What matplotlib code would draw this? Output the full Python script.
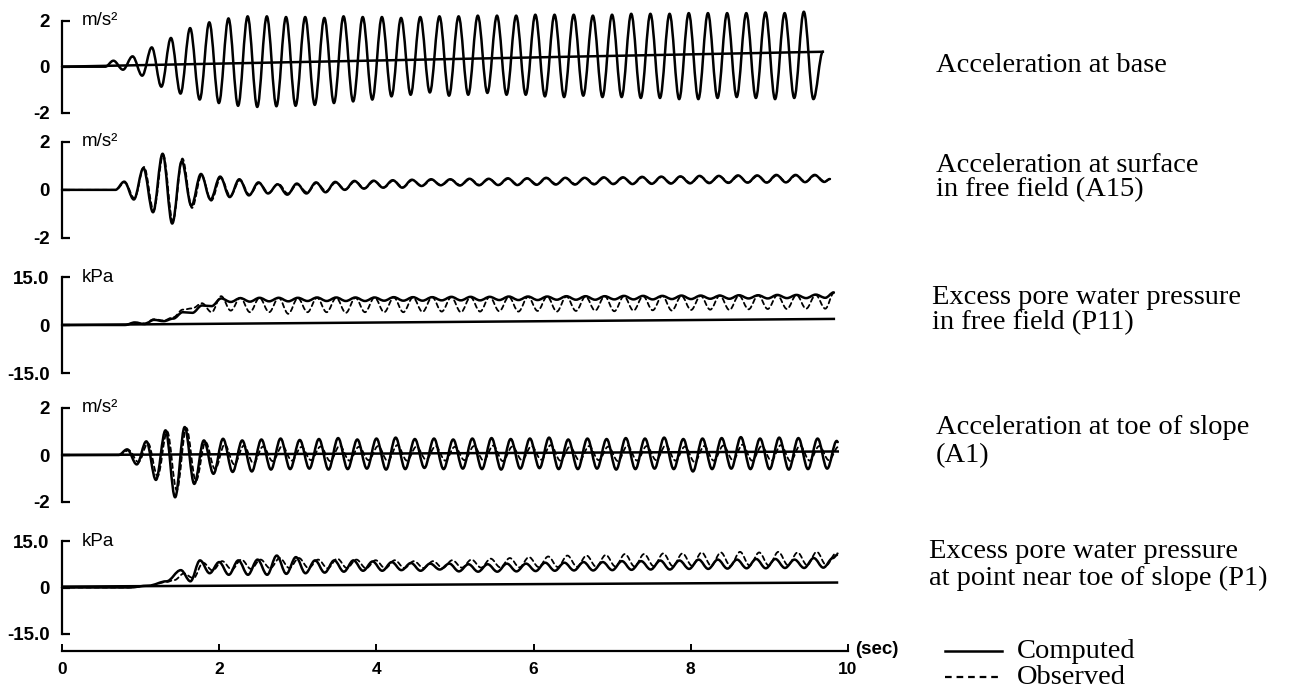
import numpy as np
import matplotlib
matplotlib.use("Agg")
import matplotlib.pyplot as plt
from matplotlib.lines import Line2D
from matplotlib.path import Path
from matplotlib.patches import PathPatch

# ---------------- data ----------------
HALF_PERIOD = 0.122  # s, spacing of successive extrema (4 Hz shaking)

x_ticks = [0, 2, 4, 6, 8, 10]
x_tick_labels = ["0", "2", "4", "6", "8", "10"]
acc_ticks = [-2, 0, 2]
acc_tick_labels = ["-2", "0", "2"]
pwp_ticks = [-15, 0, 15]
pwp_tick_labels = ["-15.0", "0", "15.0"]

# Panel 1 : acceleration at base (computed), extrema pairs (peak, trough)
base_onset_t = [0.0, 0.55]
base_onset_v = [0.0, 0.0]
base_t0 = 0.654
base_comp = [0.26, -0.13, 0.45, -0.39, 0.84, -0.87, 1.25, -1.17, 1.68, -1.43,
             1.93, -1.58, 2.10, -1.70, 2.19, -1.75, 2.19, -1.72, 2.16, -1.70,
             2.16, -1.66, 2.12, -1.58, 2.19, -1.51, 2.16, -1.43, 2.16, -1.29,
             2.12, -1.22, 2.16, -1.12, 2.19, -1.26, 2.19, -1.22, 2.22, -1.14,
             2.22, -1.22, 2.22, -1.22, 2.26, -1.29, 2.26, -1.32, 2.26, -1.26,
             2.22, -1.32, 2.26, -1.32, 2.30, -1.36, 2.30, -1.36, 2.30, -1.41,
             2.33, -1.41, 2.33, -1.36, 2.33, -1.32, 2.33, -1.36, 2.36, -1.41,
             2.33, -1.36, 2.39, -1.41]
base_end = (9.68, 0.65)
base_line_t = [0.0, 9.68]
base_line_v = [0.0, 0.65]

# Panel 2 : acceleration at surface in free field (A15)
a15_onset_t = [0.0, 0.68]
a15_onset_v = [0.0, 0.0]
a15_t0_comp = 0.792
a15_comp = [0.34, -0.40, 0.90, -0.93, 1.50, -1.40, 1.19, -0.66, 0.66, -0.40,
            0.55, -0.30, 0.44, -0.23, 0.31, -0.15, 0.23, -0.20, 0.26, -0.15,
            0.31, -0.10, 0.33, 0.00, 0.37, 0.05, 0.38, 0.09, 0.40, 0.09,
            0.42, 0.16, 0.44, 0.19, 0.44, 0.18, 0.46, 0.19, 0.46, 0.20,
            0.48, 0.20, 0.48, 0.21, 0.50, 0.22, 0.50, 0.22, 0.50, 0.23,
            0.52, 0.24, 0.52, 0.24, 0.54, 0.25, 0.55, 0.26, 0.56, 0.27,
            0.58, 0.28, 0.58, 0.29, 0.60, 0.30, 0.60, 0.30, 0.62, 0.31,
            0.62, 0.32, 0.62, 0.33]
a15_t0_obs = 0.80
a15_obs = [0.30, -0.35, 0.95, -0.85, 1.45, -1.30, 1.30, -0.75, 0.60, -0.45,
           0.50, -0.25, 0.40, -0.20, 0.28, -0.12, 0.25, -0.15, 0.22, -0.10,
           0.28, -0.05, 0.30, 0.02, 0.35, 0.07, 0.36, 0.10, 0.38, 0.12,
           0.40, 0.17, 0.42, 0.20, 0.42, 0.20, 0.44, 0.21, 0.45, 0.21,
           0.46, 0.22, 0.47, 0.23, 0.48, 0.24, 0.48, 0.24, 0.49, 0.25,
           0.50, 0.26, 0.50, 0.26, 0.52, 0.27, 0.53, 0.28, 0.54, 0.29,
           0.55, 0.30, 0.56, 0.31, 0.57, 0.31, 0.58, 0.32, 0.60, 0.33,
           0.60, 0.34, 0.60, 0.35]
a15_end = (9.77, 0.45)

# Panel 3 : excess pore water pressure in free field (P11), pairs (low, high)
p11_onset_t = [0.0, 0.80]
p11_onset_v = [0.0, 0.0]
p11_t0 = 0.927
p11_comp = [0.8, 0.3, 1.6, 1.2, 2.0, 4.0, 3.8, 6.1, 5.9, 8.3, 7.2, 8.4,
            7.3, 8.5, 7.4, 8.5, 7.4, 8.5, 7.5, 8.6, 7.5, 8.6, 7.5, 8.6,
            7.5, 8.6, 7.6, 8.7, 7.6, 8.7, 7.6, 8.7, 7.7, 8.8, 7.7, 8.8,
            7.7, 8.8, 7.8, 8.9, 7.8, 8.9, 7.8, 8.9, 7.9, 9.0, 7.9, 9.0,
            7.9, 9.0, 8.0, 9.1, 8.0, 9.1, 8.0, 9.1, 8.1, 9.2, 8.1, 9.2,
            8.2, 9.2, 8.2, 9.3, 8.3, 9.3, 8.3, 9.4, 8.4, 9.4, 8.4, 9.5,
            8.5]
p11_obs = [0.6, 0.5, 1.8, 1.4, 2.4, 4.8, 5.2, 6.8, 4.0, 9.0, 4.5, 8.5,
           4.0, 8.5, 4.0, 8.5, 3.5, 8.4, 4.0, 8.5, 4.0, 8.5, 3.8, 8.5,
           4.0, 8.6, 4.0, 8.6, 4.0, 8.6, 4.1, 8.7, 4.2, 8.7, 4.0, 8.7,
           4.2, 8.8, 4.3, 8.8, 4.2, 8.8, 4.4, 8.9, 4.2, 8.9, 4.4, 8.9,
           4.5, 9.0, 4.3, 9.0, 4.5, 9.0, 4.6, 9.1, 4.5, 9.1, 4.7, 9.1,
           4.8, 9.2, 4.7, 9.2, 4.9, 9.3, 5.0, 9.3, 5.0, 9.4, 5.1, 9.4,
           5.1]
p11_end_comp = (9.82, 10.2)
p11_end_obs = (9.82, 10.0)
p11_line_t = [0.0, 9.82]
p11_line_v = [0.0, 1.9]

# Panel 4 : acceleration at toe of slope (A1), pairs (peak, trough)
a1_onset_t = [0.0, 0.72]
a1_onset_v = [0.0, 0.0]
a1_t0_comp = 0.829
a1_comp = [0.24, -0.40, 0.58, -1.06, 1.05, -1.80, 1.19, -1.23, 0.62, -0.80,
           0.69, -0.72, 0.62, -0.70, 0.66, -0.62, 0.70, -0.60, 0.64, -0.58,
           0.68, -0.62, 0.72, -0.60, 0.66, -0.58, 0.70, -0.62, 0.74, -0.60,
           0.68, -0.55, 0.70, -0.60, 0.66, -0.58, 0.70, -0.60, 0.72, -0.62,
           0.68, -0.58, 0.70, -0.56, 0.74, -0.60, 0.66, -0.60, 0.70, -0.58,
           0.68, -0.62, 0.72, -0.60, 0.70, -0.58, 0.74, -0.60, 0.68, -0.70,
           0.70, -0.60, 0.72, -0.58, 0.76, -0.60, 0.70, -0.60, 0.74, -0.62,
           0.72, -0.60, 0.70, -0.58, 0.60]
a1_end_comp = (9.87, 0.55)
a1_t0_obs = 0.85
a1_obs = [0.20, -0.30, 0.50, -0.90, 1.00, -1.50, 1.15, -1.10, 0.55, -0.60,
          0.45, -0.40, 0.40, -0.35, 0.36, -0.26, 0.38, -0.24, 0.34, -0.22,
          0.36, -0.26, 0.40, -0.24, 0.35, -0.22, 0.38, -0.26, 0.42, -0.24,
          0.36, -0.20, 0.38, -0.24, 0.35, -0.22, 0.38, -0.24, 0.40, -0.26,
          0.36, -0.22, 0.38, -0.20, 0.42, -0.24, 0.35, -0.24, 0.38, -0.22,
          0.36, -0.26, 0.40, -0.24, 0.38, -0.22, 0.42, -0.24, 0.36, -0.30,
          0.38, -0.24, 0.40, -0.22, 0.44, -0.24, 0.38, -0.24, 0.42, -0.26,
          0.40, -0.24, 0.38, -0.22, 0.35]
a1_end_obs = (9.89, 0.30)
a1_line_t = [0.0, 9.87]
a1_line_v = [0.0, 0.15]

# Panel 5 : excess pore water pressure near toe of slope (P1), pairs (peak, trough)
p1_onset_t_comp = [0.0, 0.85, 1.10, 1.33]
p1_onset_v_comp = [0.0, 0.0, 0.6, 2.0]
p1_t0_comp = 1.512
p1_comp = [5.6, 2.0, 8.75, 4.6, 8.2, 4.1, 8.75, 4.1, 9.0, 4.1, 10.3, 4.4,
           9.8, 4.6, 8.75, 4.8, 8.75, 5.1, 8.75, 5.4, 8.4, 5.4, 8.2, 5.6,
           7.9, 5.4, 7.7, 5.8, 7.7, 5.2, 7.5, 5.1, 7.5, 5.1, 7.7, 5.2,
           7.7, 5.3, 8.0, 5.4, 8.0, 5.5, 8.2, 5.5, 8.2, 5.6, 8.5, 5.7,
           8.5, 5.8, 8.7, 5.8, 8.7, 6.0, 9.0, 6.0, 9.0, 6.1, 9.0, 6.2,
           9.2, 6.2, 9.2, 6.3, 9.0, 6.3, 9.5, 6.4, 9.5]
p1_end_comp = (9.86, 10.5)
p1_onset_t_obs = [0.0, 0.85, 1.10, 1.33, 1.43]
p1_onset_v_obs = [0.0, 0.0, 0.5, 1.8, 2.4]
p1_t0_obs = 1.55
p1_obs = [4.5, 3.0, 8.0, 5.5, 8.5, 5.8, 9.0, 6.0, 9.0, 6.2, 9.5, 6.3,
          9.5, 6.3, 9.0, 6.2, 9.3, 6.3, 9.0, 6.2, 8.8, 6.2, 8.8, 6.3,
          8.5, 6.3, 8.5, 6.3, 8.8, 6.4, 9.0, 6.4, 9.3, 6.5, 9.5, 6.5,
          9.8, 6.6, 10.0, 6.6, 10.3, 6.7, 10.3, 6.7, 10.5, 6.8, 10.8, 6.8,
          10.8, 6.9, 11.0, 6.9, 11.0, 7.0, 11.3, 7.0, 11.3, 7.0, 11.5, 7.1,
          11.3, 7.1, 11.5, 7.2, 11.3, 7.2, 11.5, 7.2, 11.0]
p1_end_obs = (9.87, 11.0)
p1_line_t = [0.0, 9.86]
p1_line_v = [0.3, 1.6]

titles = [
    ["Acceleration at base"],
    ["Acceleration at surface", "in free field (A15)"],
    ["Excess pore water pressure", "in free field (P11)"],
    ["Acceleration at toe of slope", "(A1)"],
    ["Excess pore water pressure", "at point near toe of slope (P1)"],
]
units = ["m/s²", "m/s²", "kPa", "m/s²", "kPa"]
legend_labels = ["Computed", "Observed"]


def trace(onset_t, onset_v, t0, extrema, end):
    t = np.concatenate([onset_t, t0 + HALF_PERIOD * np.arange(len(extrema)), [end[0]]])
    v = np.concatenate([onset_v, extrema, [end[1]]])
    return t, v


def smooth_line(ax, t, v, **kw):
    """Draw the read extrema joined by cubic curves with flat tangents."""
    verts = [(t[0], v[0])]
    codes = [Path.MOVETO]
    for i in range(len(t) - 1):
        d = t[i + 1] - t[i]
        verts += [(t[i] + 0.36 * d, v[i]), (t[i + 1] - 0.36 * d, v[i + 1]),
                  (t[i + 1], v[i + 1])]
        codes += [Path.CURVE4] * 3
    patch = PathPatch(Path(verts, codes), fill=False, clip_on=False,
                      capstyle="round", joinstyle="round", **kw)
    ax.add_patch(patch)


# ---------------- layout ----------------
W, H = 1300, 697
fig = plt.figure(figsize=(W / 100, H / 100), dpi=100)
fig.patch.set_facecolor("white")

X0, X1 = 62, 848
panels_px = [(20.7, 112.7), (141.7, 238), (277, 373), (408, 502), (541, 634)]
title_px = [[(936, 66)], [(936, 165), (936, 190)], [(932, 298), (932, 323)],
            [(936, 427), (936, 456)], [(929, 552), (929, 578)]]

SANS = ["Liberation Sans", "DejaVu Sans"]
SERIF = ["Liberation Serif", "DejaVu Serif"]
COMP = dict(edgecolor="black", linewidth=1.8)
OBS = dict(edgecolor="black", linewidth=1.3, linestyle=(0, (2.5, 2.0)))

axes = []
for i, (top, bot) in enumerate(panels_px):
    ax = fig.add_axes([X0 / W, 1 - bot / H, (X1 - X0) / W, (bot - top) / H])
    ax.set_xlim(0, 10)
    if units[i] == "kPa":
        ax.set_ylim(-15, 15)
        ax.set_yticks(pwp_ticks)
        ax.set_yticklabels(pwp_tick_labels)
    else:
        ax.set_ylim(-2, 2)
        ax.set_yticks(acc_ticks)
        ax.set_yticklabels(acc_tick_labels)
    for s in ["top", "right"]:
        ax.spines[s].set_visible(False)
    ax.spines["left"].set_linewidth(1.6)
    ax.tick_params(axis="y", direction="in", length=6, width=1.6, pad=9,
                   labelsize=13.5)
    for lab in ax.get_yticklabels():
        lab.set_family(SANS)
        lab.set_fontweight("bold")
    if i < 4:
        ax.spines["bottom"].set_visible(False)
        ax.set_xticks([])
    else:
        ax.spines["bottom"].set_position(("outward", 12.2))
        ax.spines["bottom"].set_linewidth(1.6)
        ax.set_xticks(x_ticks)
        ax.set_xticklabels(x_tick_labels)
        ax.tick_params(axis="x", direction="in", length=5, width=1.4, pad=8,
                       labelsize=12.5)
        for lab in ax.get_xticklabels():
            lab.set_family(SANS)
            lab.set_fontweight("bold")
    ax.patch.set_alpha(0)
    ax.text(0.025, 1.0, units[i], transform=ax.transAxes, ha="left",
            va="center", fontsize=13.5, family=SANS)
    axes.append(ax)

# ---------------- traces ----------------
ax = axes[0]
ax.plot(base_line_t, base_line_v, color="black", lw=1.8)
smooth_line(ax, *trace(base_onset_t, base_onset_v, base_t0, base_comp, base_end), **COMP)

ax = axes[1]
smooth_line(ax, *trace(a15_onset_t, a15_onset_v, a15_t0_comp, a15_comp, a15_end), **COMP)
smooth_line(ax, *trace(a15_onset_t, a15_onset_v, a15_t0_obs, a15_obs, a15_end), **OBS)

ax = axes[2]
ax.plot(p11_line_t, p11_line_v, color="black", lw=1.8)
smooth_line(ax, *trace(p11_onset_t, p11_onset_v, p11_t0, p11_obs, p11_end_obs), **OBS)
smooth_line(ax, *trace(p11_onset_t, p11_onset_v, p11_t0, p11_comp, p11_end_comp), **COMP)

ax = axes[3]
ax.plot(a1_line_t, a1_line_v, color="black", lw=1.8)
smooth_line(ax, *trace(a1_onset_t, a1_onset_v, a1_t0_comp, a1_comp, a1_end_comp), **COMP)
smooth_line(ax, *trace(a1_onset_t, a1_onset_v, a1_t0_obs, a1_obs, a1_end_obs), **OBS)

ax = axes[4]
ax.plot(p1_line_t, p1_line_v, color="black", lw=1.8)
smooth_line(ax, *trace(p1_onset_t_comp, p1_onset_v_comp, p1_t0_comp, p1_comp, p1_end_comp), **COMP)
smooth_line(ax, *trace(p1_onset_t_obs, p1_onset_v_obs, p1_t0_obs, p1_obs, p1_end_obs), **OBS)

# "(sec)" label
fig.text(855 / W, 1 - 649 / H, "(sec)", ha="left", va="center", fontsize=13.5,
         family=SANS, fontweight="bold")

# ---------------- right-side captions ----------------
for lines, pos in zip(titles, title_px):
    for txt, (px, py) in zip(lines, pos):
        fig.text(px / W, 1 - py / H, txt, ha="left", va="center",
                 fontsize=20.5, family=SERIF)

# ---------------- legend ----------------
for j, (lab, py) in enumerate(zip(legend_labels, [651, 677])):
    if j == 0:
        style = dict(color="black", lw=1.8)
    else:
        style = dict(color="black", lw=1.6, dashes=(3.0, 2.2))
    fig.add_artist(Line2D([945 / W, 1002 / W], [1 - py / H, 1 - py / H],
                          transform=fig.transFigure, **style))
    fig.text(1017 / W, 1 - py / H, lab, ha="left", va="center",
             fontsize=20.5, family=SERIF)

fig.savefig("out.png", dpi=100, facecolor="white")
